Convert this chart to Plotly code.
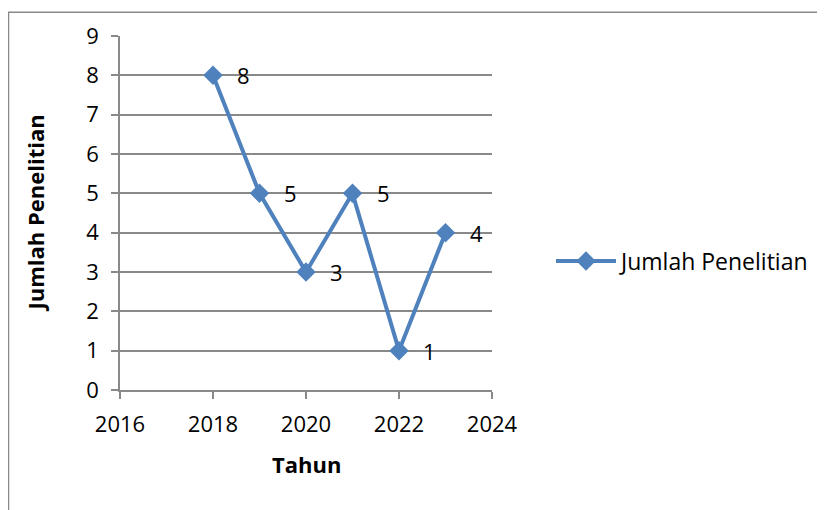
import plotly.graph_objects as go

years = [2018, 2019, 2020, 2021, 2022, 2023]
values = [8, 5, 3, 5, 1, 4]
series_name = "Jumlah Penelitian"
x_title = "Tahun"
y_title = "Jumlah Penelitian"

W, H = 825, 510
OFF = 8  # page body margin
L, T = 120 - OFF, 33 - OFF
pw, ph = 372, 357
R = W - L - pw
B = H - T - ph

def px_x(p):
    return (p - OFF - L) / pw

def px_y(p):
    return (H - B - (p - OFF)) / ph

color = "#4F81BD"
grid = "#898989"
font = "Open Sans, DejaVu Sans, sans-serif"

fig = go.Figure()
fig.add_trace(go.Scatter(
    x=years, y=values, mode="lines+markers", name=series_name,
    line=dict(color=color, width=4),
    marker=dict(symbol="diamond", size=15, color=color),
))

annotations = []
for xv, yv in zip(years, values):
    annotations.append(dict(x=xv, y=yv, xref="x", yref="y", text=str(yv),
                            showarrow=False, xanchor="left", yanchor="middle",
                            xshift=22, font=dict(size=22, color="black", family=font)))
annotations.append(dict(x=0.5, y=px_y(465), xref="paper", yref="paper", text="<b>" + x_title + "</b>",
                        showarrow=False, xanchor="center", yanchor="middle",
                        font=dict(size=22, color="black", family=font)))
annotations.append(dict(x=px_x(35), y=px_y(212), xref="paper", yref="paper", text="<b>" + y_title + "</b>",
                        showarrow=False, xanchor="center", yanchor="middle", textangle=-90,
                        font=dict(size=22, color="black", family=font)))

fig.update_layout(
    width=W, height=H,
    margin=dict(l=L, r=R, t=T, b=B),
    paper_bgcolor="white", plot_bgcolor="white",
    font=dict(family=font, size=22, color="black"),
    showlegend=True,
    legend=dict(x=px_x(551), y=px_y(260), xanchor="left", yanchor="middle",
                font=dict(size=23, color="black", family=font),
                bgcolor="rgba(0,0,0,0)", itemwidth=60, tracegroupgap=0),
    annotations=annotations,
    shapes=[dict(type="rect", xref="paper", yref="paper",
                 x0=px_x(8.5), x1=px_x(845), y0=px_y(530), y1=px_y(9),
                 line=dict(color="#888888", width=1.5), layer="below")],
)
fig.update_xaxes(range=[2016, 2024], dtick=2, tick0=2016, showgrid=False,
                 showline=True, linecolor=grid, linewidth=1.5,
                 ticks="outside", ticklen=7, tickcolor=grid, tickwidth=1.5,
                 ticklabelstandoff=7,
                 zeroline=False, tickfont=dict(size=22, color="black", family=font))
fig.update_yaxes(range=[0, 9], dtick=1, tick0=0, showgrid=True, gridcolor=grid, gridwidth=1.5,
                 showline=True, linecolor=grid, linewidth=1.5,
                 ticks="outside", ticklen=7, tickcolor=grid, tickwidth=1.5,
                 ticklabelstandoff=8,
                 zeroline=False, tickfont=dict(size=22, color="black", family=font))

fig.write_html("out.html")
